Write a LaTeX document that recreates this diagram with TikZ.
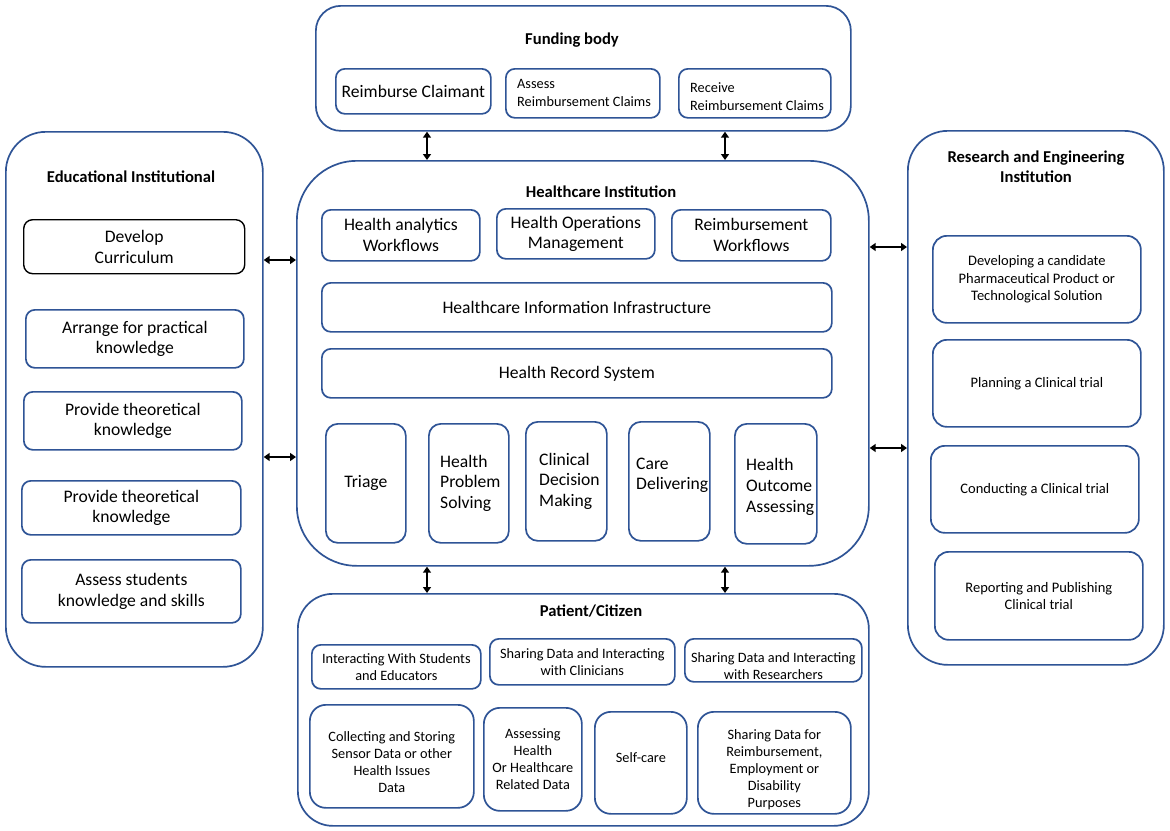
\documentclass[tikz,border=0pt]{standalone}
\usepackage{fontspec}
\setmainfont{Carlito}
\usetikzlibrary{arrows.meta}
\definecolor{blu}{RGB}{47,84,150}
\newcommand\rbx[7]{\node[#6, anchor=north west, minimum width={#4-#2}, minimum height={#5-#3}] (#1) at (#2,#3) {#7};}
\begin{document}
\begin{tikzpicture}[x=1pt,y=-1pt,
  outer/.style={draw=blu, line width=1.7pt},
  ibox/.style={draw=blu, line width=1.7pt, rounded corners=9pt, align=center},
  ttl/.style={font=\bfseries\fontsize{16.6}{20}\selectfont, align=center, inner sep=0pt},
  t17/.style={font=\fontsize{17.6}{20.8}\selectfont},
  t145/.style={font=\fontsize{14.5}{17.5}\selectfont},
  t14/.style={font=\fontsize{14.3}{17}\selectfont},
  t135/.style={font=\fontsize{14.3}{18}\selectfont},
  lt/.style={anchor=west, align=left, inner sep=0pt},
  ct/.style={align=center, inner sep=0pt},
  arr/.style={black, line width=1.5pt, {Triangle[length=6pt,width=8pt]}-{Triangle[length=6pt,width=8pt]}}
]
\useasboundingbox[fill=white] (0,0) rectangle (1170,830);

% Funding body
\rbx{fund}{315}{5}{850}{130}{outer, rounded corners=25pt}{}
\node[ttl] (fundt) at (572,40) {Funding body};
\rbx{reimb}{335}{68}{490}{113}{ibox, t17}{Reimburse Claimant}
\rbx{assess}{505}{68}{659}{117}{ibox}{}
\node[t135, lt] (assesst) at ([xshift=12pt]assess.west) {Assess\\Reimbursement Claims};
\rbx{receive}{678}{68}{830}{117}{ibox}{}
\node[t135, lt] (receivet) at ([xshift=12pt,yshift=-3pt]receive.west) {Receive\\Reimbursement Claims};

% Healthcare institution
\rbx{hc}{296}{160}{868}{565}{outer, rounded corners=60pt}{}
\node[ttl] (hct) at (601,192) {Healthcare Institution};
\rbx{hax}{321}{209}{479}{260}{ibox, t17}{Health analytics\\Workflows}
\rbx{hom}{496}{208}{654}{258}{ibox, t17}{Health Operations\\Management}
\rbx{rwf}{671}{209}{830}{260}{ibox, t17}{Reimbursement\\Workflows}
\rbx{hii}{321}{282}{831}{331}{ibox, t17}{Healthcare Information Infrastructure}
\rbx{hrs}{321}{348}{831}{397}{ibox, t17}{Health Record System}
\rbx{tri}{325}{423}{405}{542}{ibox, rounded corners=12pt, t17}{Triage}
\rbx{hps}{428}{423}{508}{542}{ibox, rounded corners=12pt}{}
\node[t17, lt] (hpst) at ([xshift=12pt]hps.west) {Health\\Problem\\Solving};
\rbx{cdm}{525}{421}{606}{540}{ibox, rounded corners=12pt}{}
\node[t17, lt] (cdmt) at ([xshift=14pt]cdm.west) {Clinical\\Decision\\Making};
\rbx{cd}{628}{421}{709}{540}{ibox, rounded corners=12pt}{}
\node[t17, lt] (cdt) at ([xshift=8pt,yshift=6pt]cd.west) {Care\\Delivering};
\rbx{hoa}{734}{423}{816}{543}{ibox, rounded corners=12pt}{}
\node[t17, lt] (hoat) at ([xshift=12pt,yshift=-3pt]hoa.west) {Health\\Outcome\\Assessing};

% Educational institutional
\rbx{edu}{5}{131}{262}{666}{outer, rounded corners=40pt}{}
\node[ttl] (edut) at (131,177) {Educational Institutional};
\rbx{dc}{23}{219}{244}{273}{ibox, draw=black, line width=1.4pt, t17}{Develop\\Curriculum}
\rbx{apk}{25}{309}{243}{367}{ibox, t17}{Arrange for practical\\knowledge}
\rbx{ptka}{23}{391}{241}{449}{ibox, t17}{Provide theoretical\\knowledge}
\rbx{ptkb}{21}{480}{240}{534}{ibox, t17}{Provide theoretical\\knowledge}
\rbx{ask}{21}{559}{240}{622}{ibox, t17}{Assess students\\knowledge and skills}

% Research and engineering
\rbx{res}{907}{130}{1163}{664}{outer, rounded corners=40pt}{}
\node[ttl] (rest) at (1036,167) {Research and Engineering\\Institution};
\rbx{dev}{932}{235}{1140}{322}{ibox, rounded corners=14pt, t145}{Developing a candidate\\Pharmaceutical Product or\\Technological Solution}
\rbx{plan}{932}{339}{1140}{426}{ibox, rounded corners=14pt, t145}{Planning a Clinical trial}
\rbx{cond}{930}{445}{1138}{532}{ibox, rounded corners=14pt, t145}{Conducting a Clinical trial}
\rbx{rep}{934}{551}{1142}{639}{ibox, rounded corners=14pt, t145}{Reporting and Publishing\\Clinical trial}

% Patient / citizen
\rbx{pat}{297}{593}{868}{825}{outer, rounded corners=35pt}{}
\node[ttl] (patt) at (591,611) {Patient/Citizen};
\rbx{pa}{311}{644}{480}{688}{ibox, t14}{Interacting With Students\\and Educators}
\rbx{pb}{489}{638}{674}{684}{ibox, t14}{Sharing Data and Interacting\\with Clinicians}
\rbx{pc}{684}{638}{861}{681}{ibox}{}
\node[t14, ct] (pct) at ([yshift=-6pt]pc.center) {Sharing Data and Interacting\\with Researchers};
\rbx{pd}{309}{704}{473}{807}{ibox, rounded corners=16pt}{}
\node[t14, ct] (pdt) at ([yshift=-6pt]pd.center) {Collecting and Storing\\Sensor Data or other\\Health Issues\\Data};
\rbx{pe}{483}{707}{581}{810}{ibox, rounded corners=16pt, t14}{Assessing\\Health\\Or Healthcare\\Related Data}
\rbx{pf}{594}{711}{686}{813}{ibox, rounded corners=16pt}{}
\node[t14, ct] (pft) at ([yshift=5pt]pf.center) {Self-care};
\rbx{pg}{697}{711}{850}{813}{ibox, rounded corners=16pt}{}
\node[t14, ct] (pgt) at ([yshift=-7pt]pg.center) {Sharing Data for\\Reimbursement,\\Employment or\\Disability\\Purposes};

% connectors
\coordinate (axa) at (427,0);
\coordinate (axb) at (725,0);
\coordinate (aya) at (0,260);
\coordinate (ayb) at (0,457);
\coordinate (ayc) at (0,247);
\coordinate (ayd) at (0,448);
\draw[arr] (fund.south -| axa) -- (hc.north -| axa);
\draw[arr] (fund.south -| axb) -- (hc.north -| axb);
\draw[arr] (hc.south -| axa) -- (pat.north -| axa);
\draw[arr] (hc.south -| axb) -- (pat.north -| axb);
\draw[arr] (edu.east |- aya) -- (hc.west |- aya);
\draw[arr] (edu.east |- ayb) -- (hc.west |- ayb);
\draw[arr] (hc.east |- ayc) -- (res.west |- ayc);
\draw[arr] (hc.east |- ayd) -- (res.west |- ayd);
\end{tikzpicture}
\end{document}
